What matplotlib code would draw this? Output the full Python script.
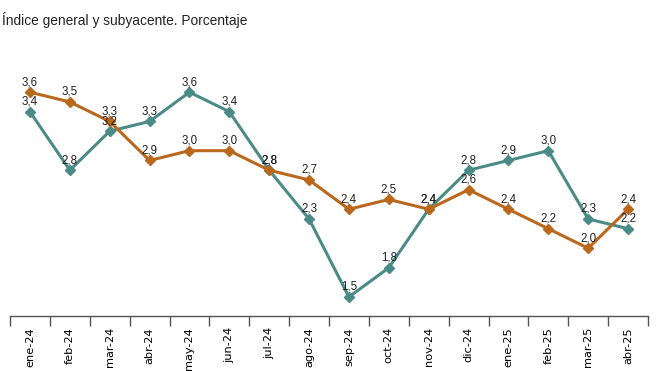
import matplotlib as mpl
mpl.use('Agg')
import matplotlib.pyplot as plt

meses = ['ene-24', 'feb-24', 'mar-24', 'abr-24', 'may-24', 'jun-24', 'jul-24', 'ago-24',
         'sep-24', 'oct-24', 'nov-24', 'dic-24', 'ene-25', 'feb-25', 'mar-25', 'abr-25']
general = [3.4, 2.8, 3.2, 3.3, 3.6, 3.4, 2.8, 2.3, 1.5, 1.8, 2.4, 2.8, 2.9, 3.0, 2.3, 2.2]
subyacente = [3.6, 3.5, 3.3, 2.9, 3.0, 3.0, 2.8, 2.7, 2.4, 2.5, 2.4, 2.6, 2.4, 2.2, 2.0, 2.4]

c_general = '#4b8b87'
c_sub = '#ba681c'

fig = plt.figure(figsize=(6.59, 3.71), dpi=100)
ax = fig.add_axes([10/659, 55/371, 638/659, 256/371])

x = list(range(len(meses)))
for serie, color in [(general, c_general), (subyacente, c_sub)]:
    ax.plot(x, serie, color=color, lw=2.2, marker='D', ms=5.5, zorder=3)
    for xi, v in zip(x, serie):
        ax.annotate(f'{v:.1f}'.replace('.', ','), (xi, v), xytext=(0, 3),
                    textcoords='offset points', ha='center', va='bottom',
                    fontsize=8.3, family='Liberation Sans', color='#222222', zorder=4)

ax.set_xlim(-0.5, len(meses) - 0.5)
ax.set_ylim(1.305, 3.93)
ax.set_yticks([])
for s in ['top', 'right', 'left']:
    ax.spines[s].set_visible(False)
ax.spines['bottom'].set_color('#555555')
ax.spines['bottom'].set_linewidth(1)

ax.set_xticks(x)
ax.set_xticklabels(meses, rotation=90, fontsize=8.2, family='DejaVu Sans')
ax.tick_params(axis='x', which='major', length=0, pad=8)
ax.set_xticks([i - 0.5 for i in range(len(meses) + 1)], minor=True)
ax.tick_params(axis='x', which='minor', length=7, width=1, color='#555555', direction='out')

fig.text(2/659, 1 - 20/371, 'Índice general y subyacente. Porcentaje', fontsize=9.9,
         family='Liberation Sans', va='center', ha='left', color='#222222')

fig.savefig('out.png', dpi=100)
